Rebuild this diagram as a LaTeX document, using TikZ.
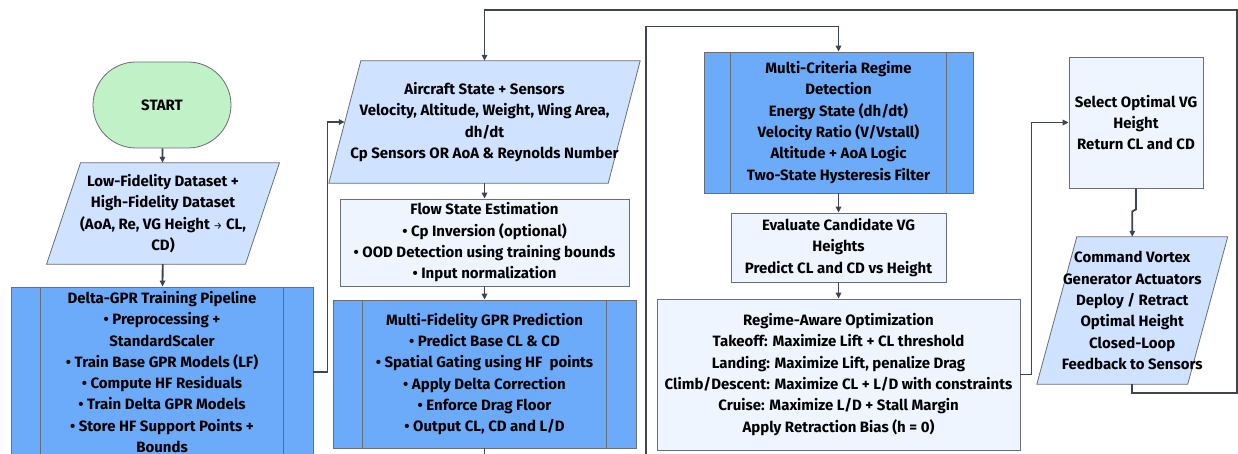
\documentclass[tikz,border=0pt]{standalone}
\usepackage{fontspec}
\setmainfont{Fira Sans}
\usetikzlibrary{arrows.meta,backgrounds,calc}
\definecolor{dkblue}{RGB}{108,170,250}
\definecolor{ltblue}{RGB}{207,226,255}
\definecolor{vlblue}{RGB}{238,245,255}
\definecolor{stgreen}{RGB}{193,242,199}
\definecolor{bordergray}{RGB}{105,110,118}
\definecolor{conncol}{RGB}{62,68,80}
\newcommand\mypara[2]{%
  \begin{scope}[on background layer]
    \draw[parashape] ([xshift=#2]#1.north west) -- ([xshift=#2]#1.north east)
      -- ([xshift=-#2]#1.south east) -- ([xshift=-#2]#1.south west) -- cycle;
  \end{scope}}
\newcommand\myinner[2]{%
  \draw[bordergray, line width=0.8pt] ([xshift=#2]#1.north west) -- ([xshift=#2]#1.south west);
  \draw[bordergray, line width=0.8pt] ([xshift=-#2]#1.north east) -- ([xshift=-#2]#1.south east);}
\newcommand\smallarr{{\fontsize{10}{10}\selectfont\mdseries →}}
\begin{document}
\begin{tikzpicture}[x=1pt,y=-1pt,
  txt/.style={align=center, inner sep=0pt, text=black,
    font=\fontsize{15}{21.3}\selectfont\bfseries},
  box/.style={txt, draw=bordergray, line width=0.8pt},
  darkbox/.style={box, fill=dkblue},
  lightbox/.style={box, fill=vlblue},
  paranode/.style={txt},
  parashape/.style={draw=bordergray, line width=0.8pt, fill=ltblue},
  conn/.style={draw=conncol, line width=1.8pt, -{Triangle[length=6pt,width=5.5pt]}},
  plainline/.style={draw=conncol, line width=1.8pt}]
\useasboundingbox (0,0) rectangle (1238,454);

% column 1
\node[box, fill=stgreen, rounded corners=43pt, minimum width=138, minimum height=86] (start) at (162,105) {START};
\node[paranode, minimum width=198.5, minimum height=101] (lowfi) at (163,213.5)
  {Low-Fidelity Dataset +\\High-Fidelity Dataset\\(AoA, Re, VG Height \smallarr{} CL,\\CD)};
\mypara{lowfi}{17}
\node[darkbox, minimum width=302, minimum height=170] (dgpr) at (162,372)
  {Delta-GPR Training Pipeline\\• Preprocessing +\\StandardScaler\\• Train Base GPR Models (LF)\\• Compute HF Residuals\\• Train Delta GPR Models\\• Store HF Support Points +\\Bounds};
\myinner{dgpr}{30}

% column 2
\node[paranode, minimum width=279, minimum height=122] (air) at (484.5,122)
  {Aircraft State + Sensors\\Velocity, Altitude, Weight, Wing Area,\\dh/dt\\Cp Sensors OR AoA \& Reynolds Number};
\mypara{air}{16}
\node[lightbox, minimum width=289, minimum height=87] (flow) at (484.5,242.5)
  {Flow State Estimation\\• Cp Inversion (optional)\\• OOD Detection using training bounds\\• Input normalization};
\node[darkbox, minimum width=303, minimum height=148] (mfgpr) at (484.5,374)
  {Multi-Fidelity GPR Prediction\\• Predict Base CL \& CD\\• Spatial Gating using HF\ \ points\\• Apply Delta Correction\\• Enforce Drag Floor\\• Output CL, CD and L/D};
\myinner{mfgpr}{30}

% column 3
\node[darkbox, minimum width=269, minimum height=141] (mcrit) at (838.5,122.5)
  {Multi-Criteria Regime\\Detection\\Energy State (dh/dt)\\Velocity Ratio (V/Vstall)\\Altitude + AoA Logic\\Two-State Hysteresis Filter};
\myinner{mcrit}{27}
\node[lightbox, minimum width=215, minimum height=69] (evalc) at (838.5,247.5)
  {Evaluate Candidate VG\\Heights\\Predict CL and CD vs Height};
\node[lightbox, minimum width=363, minimum height=151] (regime) at (838.5,374.5)
  {Regime-Aware Optimization\\Takeoff: Maximize Lift + CL threshold\\Landing: Maximize Lift, penalize Drag\\Climb/Descent: Maximize CL + L/D with constraints\\Cruise: Maximize L/D + Stall Margin\\Apply Retraction Bias (h = 0)};

% column 4
\node[lightbox, minimum width=134, minimum height=131] (select) at (1136,122.5)
  {Select Optimal VG\\Height\\Return CL and CD};
\node[paranode, minimum width=150.5, minimum height=147] (cmd) at (1132.25,310.5)
  {Command Vortex\\Generator Actuators\\Deploy / Retract\\Optimal Height\\Closed-Loop\\Feedback to Sensors};
\mypara{cmd}{20}

% free ends
\coordinate (offA) at (484.5,462);
\coordinate (offB) at (646,462);
\coordinate (rc) at (1237,10);

% connectors
\draw[conn] (start) -- (lowfi);
\draw[conn] (lowfi) -- (dgpr);
\draw[conn] (dgpr.east) -- ++(14,0) |- (air.west);
\draw[conn] (air) -- (flow);
\draw[conn] (flow) -- (mfgpr);
\draw[plainline] (mfgpr.south) -- (offA);
\draw[conn] (offB) |- ([yshift=25]mcrit.north) -- (mcrit.north);
\draw[conn] (mcrit) -- (evalc);
\draw[conn] (evalc) -- (regime);
\draw[conn] (regime.east) -- ++(11,0) |- (select.west);
\draw[conn] (select.south) -- ++(0,21) -- ++(-3.75,2) -- (cmd.north);
\draw[conn] (cmd.south) -- ++(0,9) -| (rc) -| (air.north);
\end{tikzpicture}
\end{document}
